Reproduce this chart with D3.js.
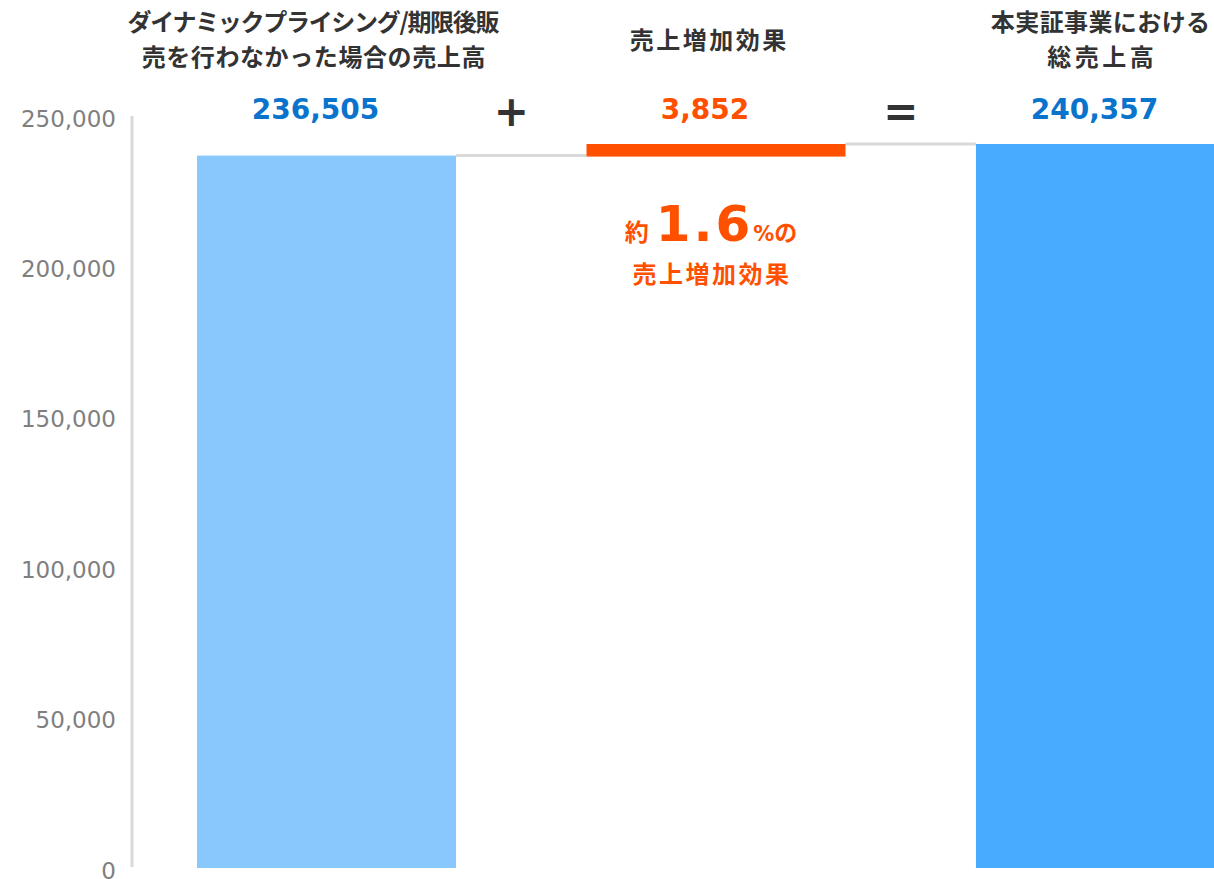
<!DOCTYPE html>
<html><head><meta charset="utf-8">
<script src="https://cdn.jsdelivr.net/npm/d3@7"></script>
<style>
html,body{margin:0;padding:0;background:#fff;overflow:hidden;}
</style></head>
<body>
<svg id="chart" width="1214" height="879"></svg>
<script>
const categories = ["base", "effect", "total"];
const titleLines = [
  ["ダイナミックプライシング/期限後販", "売を行わなかった場合の売上高"],
  ["売上増加効果"],
  ["本実証事業における", "総売上高"]
];
const barStart = [0, 236505, 0];
const barEnd = [236505, 240357, 240357];
const valueLabels = ["236,505", "3,852", "240,357"];
const tickValues = [0, 50000, 100000, 150000, 200000, 250000];
const operators = ["+", "="];

const svg = d3.select("#chart");
const y = d3.scaleLinear().domain([0, 250000]).range([867, 115]);
const x = d3.scaleBand().domain(categories).range([132, 1300]).paddingInner(0.335).paddingOuter(0.167);

const colors = ["#88c8fd", "#ff5000", "#48abfe"];
const valueColors = ["#0a74cc", "#ff5000", "#0a74cc"];
const titleOffset = [-13, -8, -5];
const titleSpacing = [[-1.3, 0.6], [2.5], [0.4, 3.5]];
const jp = "'Noto Sans CJK JP', 'Noto Sans', sans-serif";
const num = "'DejaVu Sans', Verdana, sans-serif";

// axis
const axis = d3.axisLeft(y).tickValues(tickValues).tickFormat(d3.format(",")).tickSize(0).tickPadding(16);
const ag = svg.append("g").attr("transform", "translate(132,0)").call(axis);
ag.select(".domain").attr("stroke", "#d9d9d9").attr("stroke-width", 3).attr("d", `M0,${y(250000) + 1}V${y(0)}`);
ag.selectAll(".tick text").attr("fill", "#7f7f7f").attr("font-family", num).attr("font-size", 23).attr("dy", "0.48em");

// connectors
for (let i = 0; i < categories.length - 1; i++) {
  svg.append("line")
    .attr("x1", x(categories[i]) + x.bandwidth()).attr("x2", x(categories[i + 1]))
    .attr("y1", y(barEnd[i])).attr("y2", y(barEnd[i]))
    .attr("stroke", "#d9d9d9").attr("stroke-width", 3);
}

// bars
svg.selectAll("rect.bar").data(categories).join("rect")
  .attr("class", "bar")
  .attr("x", d => x(d)).attr("width", x.bandwidth())
  .attr("y", (d, i) => y(barEnd[i]))
  .attr("height", (d, i) => y(barStart[i]) - y(barEnd[i]) + 1)
  .attr("fill", (d, i) => colors[i]);

// titles and values
categories.forEach((c, i) => {
  const bc = x(c) + x.bandwidth() / 2;
  const lines = titleLines[i];
  lines.forEach((l, j) => {
    const cy = lines.length === 1 ? 40 : 22 + j * 35;
    const ls = titleSpacing[i][j];
    svg.append("text").attr("x", bc + titleOffset[i] + ls / 2).attr("y", cy).attr("dy", "0.36em")
      .attr("text-anchor", "middle").attr("font-family", jp)
      .attr("font-weight", 700).attr("font-size", 24).attr("fill", "#333")
      .attr("letter-spacing", ls).text(l);
  });
  svg.append("text").attr("x", bc - 11).attr("y", 109).attr("dy", "0.36em")
    .attr("text-anchor", "middle").attr("font-family", num).attr("font-weight", 700)
    .attr("font-size", 28).attr("fill", valueColors[i]).text(valueLabels[i]);
});

// operators
operators.forEach((op, i) => {
  const cx = (x(categories[i]) + x.bandwidth() + x(categories[i + 1])) / 2 - 10;
  svg.append("text").attr("x", cx).attr("y", 111).attr("dy", "0.36em")
    .attr("text-anchor", "middle").attr("font-family", num).attr("font-weight", 700)
    .attr("font-size", 42).attr("fill", "#333").text(op);
});

// annotation
const ax = x("effect") + x.bandwidth() / 2 - 5;
const ann = svg.append("text").attr("x", ax).attr("y", 241).attr("text-anchor", "middle")
  .attr("fill", "#ff5000").attr("font-weight", 700);
ann.append("tspan").attr("font-family", jp).attr("font-size", 24).text("約");
ann.append("tspan").attr("font-family", num).attr("font-size", 50).attr("dx", 7).attr("letter-spacing", 3).text("1.6");
ann.append("tspan").attr("font-family", num).attr("font-size", 21).attr("dx", 0).text("%");
ann.append("tspan").attr("font-family", jp).attr("font-size", 23).text("の");
svg.append("text").attr("x", ax + 1).attr("y", 274).attr("dy", "0.36em").attr("text-anchor", "middle")
  .attr("fill", "#ff5000").attr("font-weight", 700).attr("font-family", jp).attr("font-size", 24)
  .attr("letter-spacing", 2.5).text("売上増加効果");
</script>
</body></html>
